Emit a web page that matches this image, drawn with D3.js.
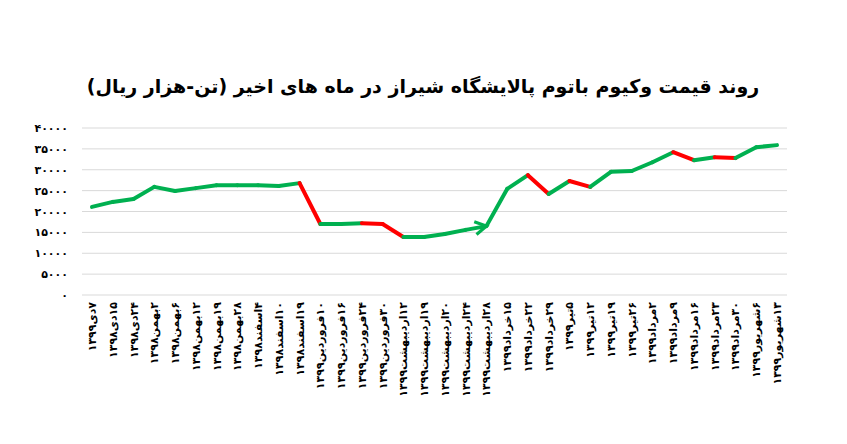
<!DOCTYPE html>
<html><head><meta charset="utf-8">
<script src="https://cdn.jsdelivr.net/npm/d3@7/dist/d3.min.js"></script>
<style>body{margin:0;background:#fff}text{font-family:"DejaVu Sans",sans-serif}</style>
</head><body><svg id="c" width="847" height="444"></svg>
<script>
var labels = ["۷دی۱۳۹۹","۱۵دی۱۳۹۸","۲۴دی۱۳۹۸","۲بهمن۱۳۹۸","۶بهمن۱۳۹۸","۱۲بهمن۱۳۹۸","۱۹بهمن۱۳۹۸","۲۸بهمن۱۳۹۸","۴اسفند۱۳۹۸","۱۰اسفند۱۳۹۸","۱۹اسفند۱۳۹۸",
 "۱۰فروردین۱۳۹۹","۱۶فروردین۱۳۹۹","۲۴فروردین۱۳۹۹","۳۰فروردین۱۳۹۹","۱۲اردیبهشت۱۳۹۹","۱۹اردیبهشت۱۳۹۹","۲۰اردیبهشت۱۳۹۹","۲۴اردیبهشت۱۳۹۹","۲۸اردیبهشت۱۳۹۹",
 "۱۵خرداد۱۳۹۹","۲۲خرداد۱۳۹۹","۲۹خرداد۱۳۹۹","۵تیر۱۳۹۹","۱۲تیر۱۳۹۹","۱۹تیر۱۳۹۹","۲۶تیر۱۳۹۹","۲مرداد۱۳۹۹","۹مرداد۱۳۹۹","۱۶مرداد۱۳۹۹","۲۳مرداد۱۳۹۹","۳۰مرداد۱۳۹۹","۶شهریور۱۳۹۹","۱۳شهریور۱۳۹۹"];
var prices = [21100,22300,23000,25900,24900,25600,26300,26300,26300,26100,26800,
 17000,17000,17200,17000,13900,13900,14600,15600,16500,
 25400,28700,24200,27300,25900,29500,29700,31800,34200,32300,33000,32800,35400,35900];
var redSegments = [10,13,14,21,23,28,30]; // segment i connects point i to i+1
var arrowAt = 18; // segment ending with an arrow head
var yTicks = [0,5000,10000,15000,20000,25000,30000,35000,40000];
var title = "روند قیمت وکیوم باتوم پالایشگاه شیراز در ماه های اخیر (تن-هزار ریال)";

var fa = function(n){ return String(n).replace(/\d/g, function(d){ return "۰۱۲۳۴۵۶۷۸۹"[d]; }); };
var svg = d3.select("#c");
var x = d3.scalePoint().domain(d3.range(labels.length)).range([92, 777]);
var y = d3.scaleLinear().domain([0, 40000]).range([295, 128]);

svg.append("defs").append("marker").attr("id","arr").attr("viewBox","0 0 10 10")
  .attr("refX",8).attr("refY",5).attr("markerWidth",4).attr("markerHeight",4).attr("orient","auto")
  .append("path").attr("d","M1,1L8,5L1,9").attr("fill","none").attr("stroke","#00b050").attr("stroke-width",2);

svg.append("text").attr("x",423).attr("y",93).attr("text-anchor","middle")
  .attr("font-size",19).attr("font-weight","bold").text(title);

svg.append("g").selectAll("line").data(yTicks).join("line")
  .attr("x1",82).attr("x2",787).attr("y1",d=>y(d)).attr("y2",d=>y(d))
  .attr("stroke","#d9d9d9").attr("stroke-width",1);
svg.append("g").selectAll("text").data(yTicks).join("text")
  .attr("x",68).attr("y",d=>y(d)+4).attr("text-anchor","end")
  .attr("font-size",11).attr("font-weight","bold").text(d=>fa(d));

svg.append("g").selectAll("line").data(d3.range(prices.length-1)).join("line")
  .attr("x1",i=>x(i)).attr("y1",i=>y(prices[i])).attr("x2",i=>x(i+1)).attr("y2",i=>y(prices[i+1]))
  .attr("stroke",i=>redSegments.indexOf(i)>=0?"#ff0000":"#00b050")
  .attr("stroke-width",4).attr("stroke-linecap","round")
  .attr("marker-end",i=>i===arrowAt?"url(#arr)":null);

svg.append("g").selectAll("text").data(labels).join("text")
  .attr("transform",(d,i)=>"translate("+(x(i)+4)+",302) rotate(-90)")
  .attr("direction","rtl").attr("text-anchor","start")
  .attr("font-size",11).attr("font-weight","bold").text(d=>d);
</script></body></html>
